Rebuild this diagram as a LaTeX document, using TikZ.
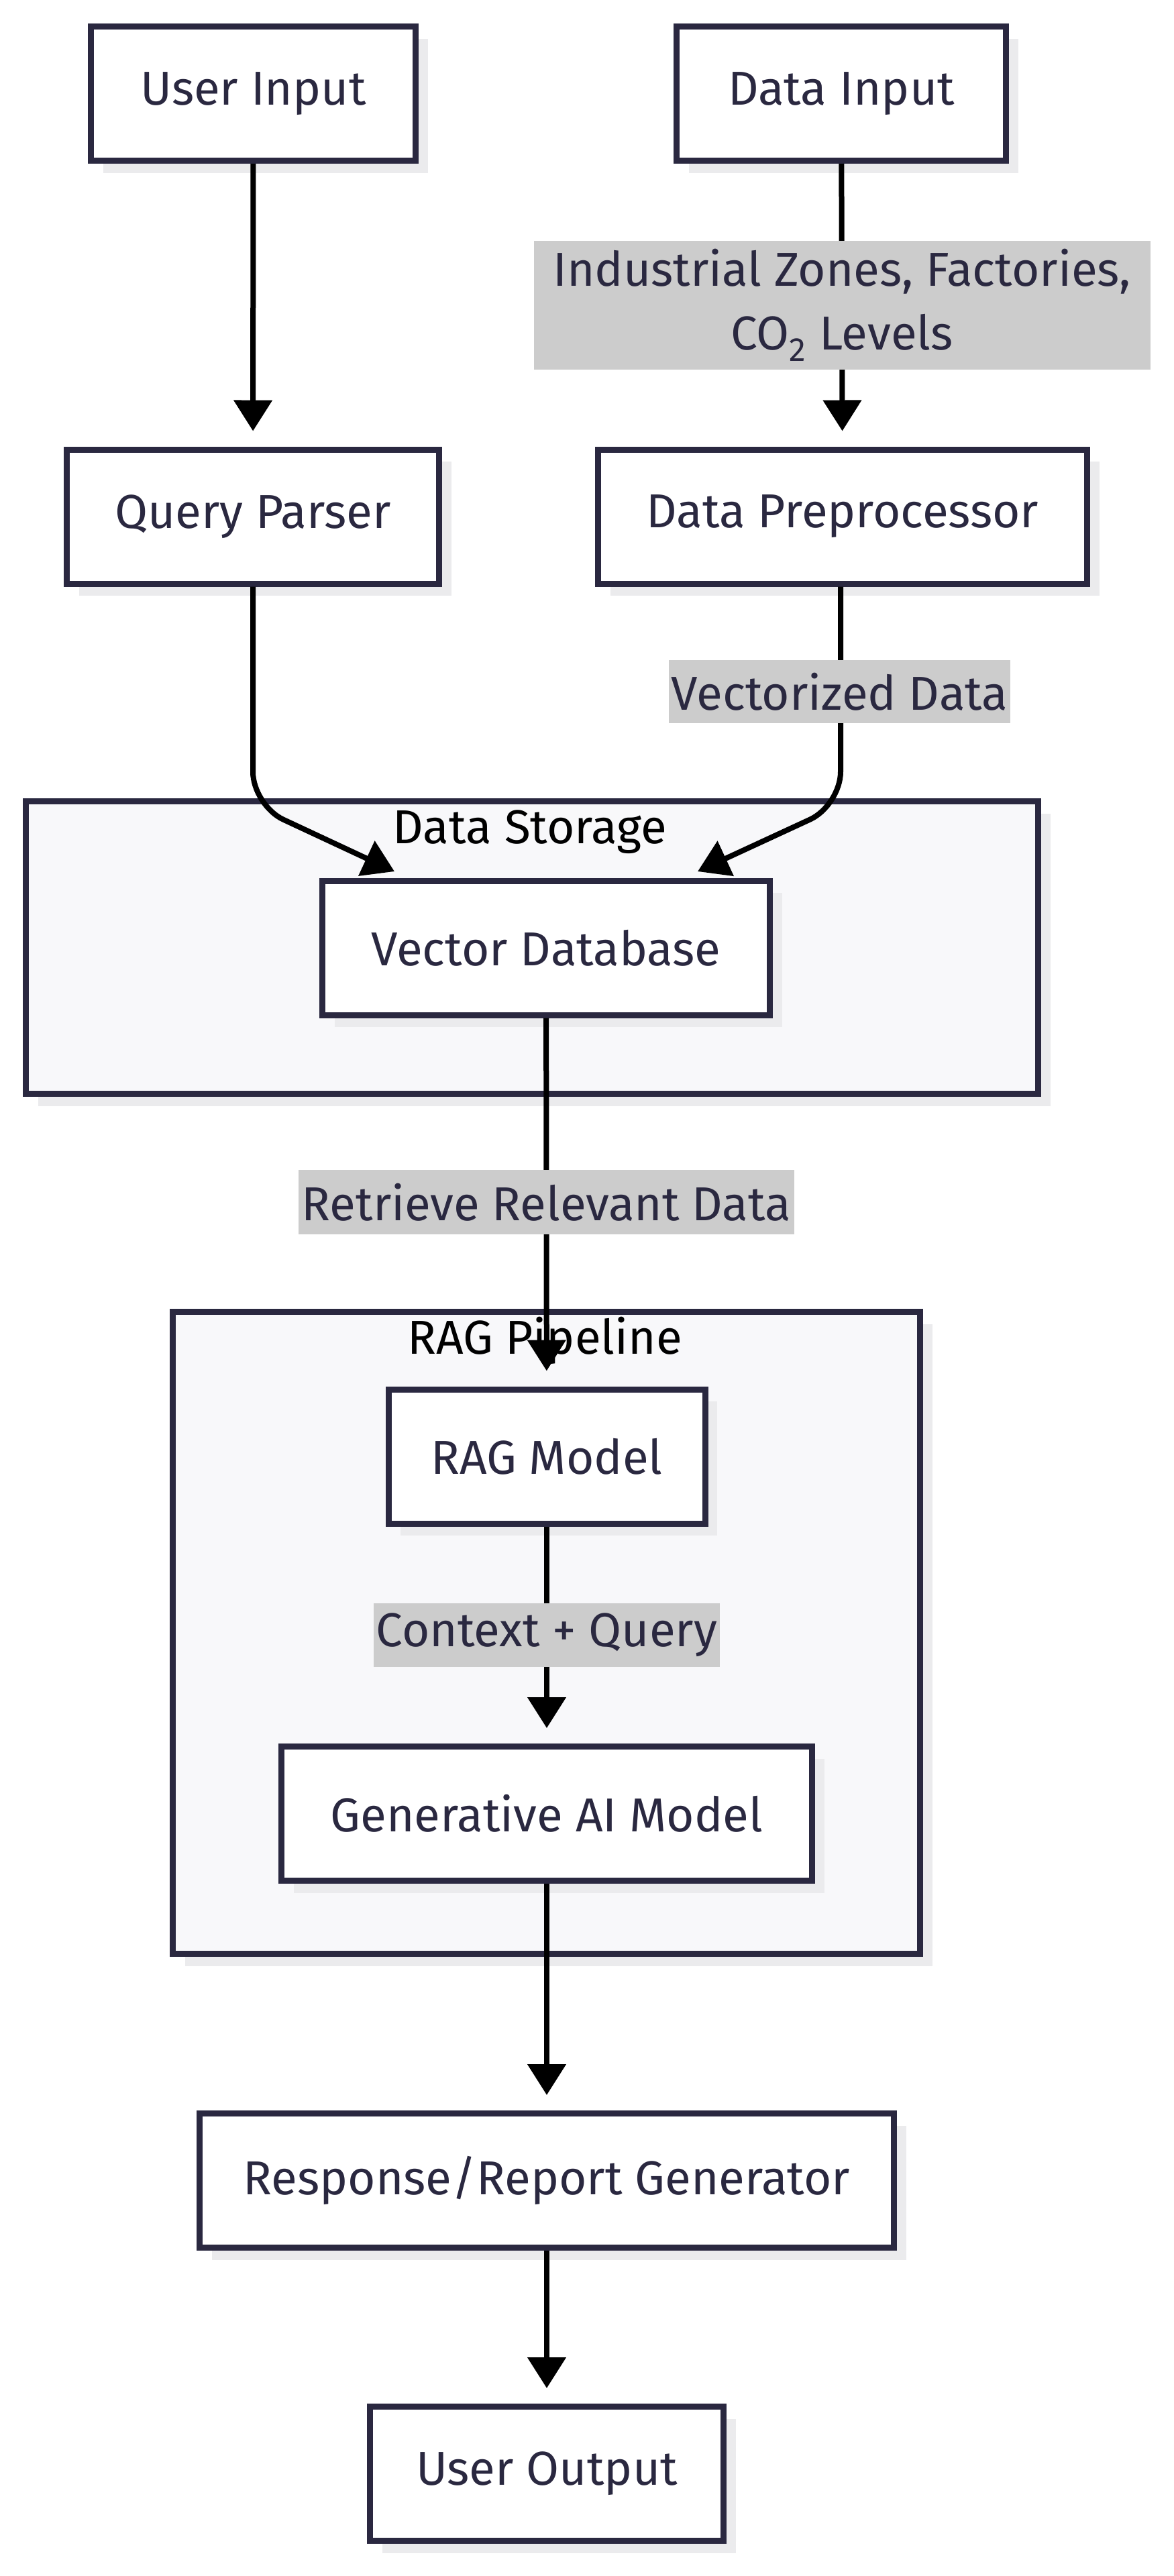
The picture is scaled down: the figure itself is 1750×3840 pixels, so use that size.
\documentclass[tikz,border=0pt]{standalone}
\usepackage{fontspec}
\setmainfont{Fira Sans}
\usetikzlibrary{arrows.meta,shadows}
\definecolor{ink}{HTML}{2A2840}
\definecolor{clusterbg}{HTML}{F8F8FA}
\definecolor{labelbg}{HTML}{CCCCCC}
\definecolor{shade}{HTML}{EBEBED}
\newcommand{\boxfont}{\fontsize{35.5}{47.5}\selectfont}
\begin{document}
\begin{tikzpicture}[x=0.5pt, y=-0.5pt,
    box/.style = {draw=ink, line width=4.5pt, fill=white, text=ink, minimum height=100pt,
                  font=\boxfont, drop shadow={shadow xshift=9pt, shadow yshift=-9pt, fill=shade, opacity=1}},
    cluster/.style = {draw=ink, line width=4.5pt, fill=clusterbg,
                  drop shadow={shadow xshift=9pt, shadow yshift=-9pt, fill=shade, opacity=1}},
    clustertitle/.style = {text=black, font=\boxfont},
    edge/.style = {line width=4pt, -{Triangle[length=23pt, width=28pt]}, shorten >=11.5pt},
    lbl/.style = {fill=labelbg, text=ink, font=\boxfont, inner sep=0pt, align=center}]
    \useasboundingbox (0,0) rectangle (1750,3840);
    % subgraphs
    \node[cluster, minimum width=754.5pt, minimum height=218pt] (store) at (793,1412.5) {};
    \node[clustertitle] (storetitle) at (790,1240) {Data Storage};
    \node[cluster, minimum width=557pt, minimum height=478.5pt] (rag) at (814.5,2434) {};
    \node[clustertitle] (ragtitle) at (812,1998) {RAG Pipeline};
    % boxes
    \node[box, minimum width=242pt] (userin) at (377.5,139.5) {User Input};
    \node[box, minimum width=245.5pt] (datain) at (1254,139.5) {Data Input};
    \node[box, minimum width=277.5pt] (qparse) at (377,770) {Query Parser};
    \node[box, minimum width=364.5pt] (prep) at (1256,770) {Data Preprocessor};
    \node[box, minimum width=333.5pt] (vdb) at (814,1413) {Vector Database};
    \node[box, minimum width=236pt] (ragmodel) at (815,2171) {RAG Model};
    \node[box, minimum width=395.5pt] (genai) at (815,2703.5) {Generative AI Model};
    \node[box, minimum width=517.5pt] (report) at (815,3250.5) {Response/Report Generator};
    \node[box, minimum width=263.5pt] (userout) at (815,3687.5) {User Output};
    \coordinate (vdbl) at ([xshift=-113pt, yshift=4.75pt]vdb.north);
    \coordinate (vdbr) at ([xshift=113pt, yshift=4.75pt]vdb.north);
    % edges
    \draw[edge] (userin) -- (qparse);
    \draw[edge] (datain) -- node[lbl, minimum width=459.5pt, minimum height=96pt] (zones)
        {Industrial Zones, Factories,\\CO\textsubscript{2} Levels} (prep);
    \draw[edge, shorten >=0pt, rounded corners=25pt] (qparse.south) -- ++(0,326) -- (vdbl);
    \draw[edge, shorten >=0pt, rounded corners=25pt] ([xshift=-1.5pt]prep.south) -- ++(0,326) -- (vdbr);
    \node[lbl, minimum width=254.5pt, minimum height=47pt] (vecdata) at (1251.5,1031) {Vectorized Data};
    \draw[edge] (vdb) -- node[lbl, minimum width=369.5pt, minimum height=48pt] (retrieve)
        {Retrieve Relevant Data} (ragmodel);
    \draw[edge] (ragmodel) -- node[lbl, minimum width=258pt, minimum height=47.5pt] (ctx)
        {Context + Query} (genai);
    \draw[edge] (genai) -- (report);
    \draw[edge] (report) -- (userout);
\end{tikzpicture}
\end{document}
